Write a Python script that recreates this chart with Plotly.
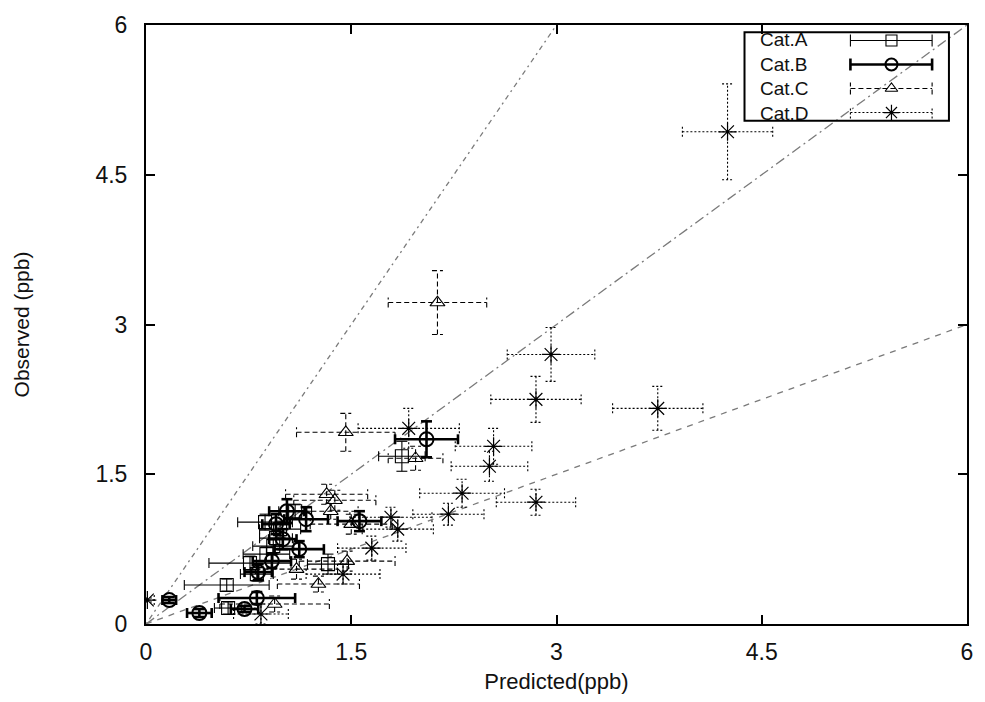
import plotly.graph_objects as go

# Predicted vs observed concentrations (ppb) with symmetric uncertainties
cat_a_pred = [1.87, 1.33, 0.87, 0.98, 1.09, 0.95, 0.76, 0.81, 0.59, 0.60, 0.93, 0.88]
cat_a_obs = [1.68, 0.60, 1.02, 0.95, 1.13, 0.86, 0.61, 0.50, 0.39, 0.16, 0.78, 0.70]
cat_a_perr = [0.17, 0.15, 0.20, 0.15, 0.12, 0.12, 0.30, 0.12, 0.31, 0.10, 0.15, 0.17]
cat_a_oerr = [0.15, 0.10, 0.08, 0.08, 0.07, 0.08, 0.07, 0.07, 0.06, 0.06, 0.08, 0.07]

cat_b_pred = [2.05, 1.56, 1.17, 1.03, 1.12, 0.92, 0.82, 0.81, 0.39, 0.17, 0.72, 1.00, 0.95]
cat_b_obs = [1.85, 1.03, 1.05, 1.13, 0.75, 0.63, 0.52, 0.26, 0.11, 0.24, 0.15, 0.85, 1.00]
cat_b_perr = [0.23, 0.16, 0.16, 0.13, 0.18, 0.14, 0.10, 0.28, 0.09, 0.05, 0.10, 0.10, 0.10]
cat_b_oerr = [0.18, 0.10, 0.12, 0.12, 0.08, 0.07, 0.08, 0.06, 0.04, 0.03, 0.03, 0.10, 0.10]

cat_c_pred = [2.13, 1.46, 1.32, 1.38, 1.35, 1.97, 1.26, 1.47, 0.94, 1.10, 1.50]
cat_c_obs = [3.22, 1.92, 1.30, 1.24, 1.13, 1.66, 0.40, 0.63, 0.20, 0.55, 1.00]
cat_c_perr = [0.36, 0.36, 0.30, 0.30, 0.20, 0.20, 0.30, 0.35, 0.40, 0.30, 0.30]
cat_c_oerr = [0.32, 0.19, 0.10, 0.10, 0.08, 0.12, 0.08, 0.10, 0.08, 0.10, 0.10]

cat_d_pred = [4.25, 2.96, 2.85, 3.74, 1.92, 2.54, 2.51, 2.31, 2.85, 2.21, 1.79, 1.84, 1.65, 1.44, 0.01, 0.84]
cat_d_obs = [4.93, 2.70, 2.25, 2.16, 1.96, 1.78, 1.58, 1.31, 1.22, 1.10, 1.07, 0.95, 0.76, 0.50, 0.24, 0.10]
cat_d_perr = [0.33, 0.32, 0.33, 0.33, 0.37, 0.28, 0.28, 0.31, 0.29, 0.26, 0.30, 0.26, 0.25, 0.27, 0.05, 0.20]
cat_d_oerr = [0.48, 0.27, 0.23, 0.22, 0.20, 0.18, 0.15, 0.14, 0.13, 0.11, 0.10, 0.12, 0.12, 0.10, 0.02, 0.10]

tick_vals = [0, 1.5, 3, 4.5, 6]
tick_text = ["0", "1.5", "3", "4.5", "6"]

# reference lines: observed = k * predicted
ref_slopes = [2.0, 1.0, 0.5]
ref_dash = ["2px,4px,5px,4px", "10px,4px,2px,4px", "6px,6px"]

AX_MAX = 6.0
# cap half-lengths in data units (about 5 px on this canvas)
CAP_X = 0.04
CAP_Y = 0.05

FONT = "Liberation Sans, Arial, sans-serif"

series = [
    dict(name="Cat.A", x=cat_a_pred, y=cat_a_obs, ex=cat_a_perr, ey=cat_a_oerr,
         symbol="square-open", size=13, lw=1.1, dash="solid", mlw=1.1),
    dict(name="Cat.B", x=cat_b_pred, y=cat_b_obs, ex=cat_b_perr, ey=cat_b_oerr,
         symbol="circle-open", size=14, lw=2.6, dash="solid", mlw=2.0),
    dict(name="Cat.C", x=cat_c_pred, y=cat_c_obs, ex=cat_c_perr, ey=cat_c_oerr,
         symbol="triangle-up-open", size=13, lw=1.1, dash="5px,3px", mlw=1.1),
    dict(name="Cat.D", x=cat_d_pred, y=cat_d_obs, ex=cat_d_perr, ey=cat_d_oerr,
         symbol="asterisk-open", size=15, lw=1.1, dash="2px,2px", mlw=1.2),
]


def error_segments(xs, ys, exs, eys):
    """Build x/y segment lists (None separated) for crosshair error bars with caps."""
    sx, sy = [], []
    for x, y, ex, ey in zip(xs, ys, exs, eys):
        # horizontal bar
        sx += [x - ex, x + ex, None]
        sy += [y, y, None]
        # vertical bar
        sx += [x, x, None]
        sy += [y - ey, y + ey, None]
        # caps
        for cx in (x - ex, x + ex):
            sx += [cx, cx, None]
            sy += [y - CAP_Y, y + CAP_Y, None]
        for cy in (y - ey, y + ey):
            sx += [x - CAP_X, x + CAP_X, None]
            sy += [cy, cy, None]
    return sx, sy


fig = go.Figure()

for k, d in zip(ref_slopes, ref_dash):
    x_end = min(AX_MAX, AX_MAX / k)
    fig.add_trace(go.Scatter(
        x=[0, x_end], y=[0, k * x_end], mode="lines",
        line=dict(color="#7a7a7a", width=1.3, dash=d),
        showlegend=False, hoverinfo="skip"))

for s in series:
    sx, sy = error_segments(s["x"], s["y"], s["ex"], s["ey"])
    fig.add_trace(go.Scatter(
        x=sx, y=sy, mode="lines",
        line=dict(color="black", width=s["lw"], dash=s["dash"]),
        showlegend=False, hoverinfo="skip"))
    fig.add_trace(go.Scatter(
        x=s["x"], y=s["y"], mode="markers", name=s["name"],
        marker=dict(symbol=s["symbol"], size=s["size"], color="black",
                    line=dict(color="black", width=s["mlw"])),
        showlegend=False))

# key box drawn on an overlay axis spanning the plotting area (0..1 each way)
KEY_FONT_SIZE = 19
plot_h_px = 702 - 17 - 69
row_step = KEY_FONT_SIZE * 1.3 / plot_h_px   # matches the multi-line text spacing
key_top, key_bottom = 0.988, 0.840
key_mid = (key_top + key_bottom) / 2
key_rows = [key_mid + (1.5 - i) * row_step for i in range(len(series))]
key_x0, key_x1, key_xm = 0.858, 0.9575, 0.908
key_cap = 0.010
for s, ry in zip(series, key_rows):
    fig.add_trace(go.Scatter(
        x=[key_x0, key_x1, None, key_x0, key_x0, None, key_x1, key_x1],
        y=[ry, ry, None, ry - key_cap, ry + key_cap, None, ry - key_cap, ry + key_cap],
        mode="lines", xaxis="x2", yaxis="y2",
        line=dict(color="black", width=s["lw"], dash=s["dash"]),
        showlegend=False, hoverinfo="skip"))
    fig.add_trace(go.Scatter(
        x=[key_xm], y=[ry], mode="markers", xaxis="x2", yaxis="y2",
        marker=dict(symbol=s["symbol"], size=s["size"] - 2, color="black",
                    line=dict(color="black", width=s["mlw"])),
        showlegend=False, hoverinfo="skip"))

fig.add_annotation(
    x=0.745, y=key_mid, xref="x2", yref="y2",
    text="<br>".join(s["name"] for s in series), showarrow=False,
    xanchor="left", yanchor="middle", align="left",
    font=dict(family=FONT, size=KEY_FONT_SIZE, color="#111"))

fig.add_shape(type="rect", xref="x2", yref="y2", x0=0.729, x1=0.978,
              y0=key_bottom, y1=key_top,
              line=dict(color="black", width=2), fillcolor="rgba(0,0,0,0)")

axis_common = dict(
    range=[0, AX_MAX], tickvals=tick_vals, ticktext=tick_text,
    ticks="inside", ticklen=9, tickwidth=1.5, tickcolor="black",
    showline=True, linewidth=2, linecolor="black", mirror="ticks",
    showgrid=False, zeroline=False,
    tickfont=dict(family=FONT, size=23, color="#111"),
)

fig.update_layout(
    width=985, height=702,
    margin=dict(l=146, r=15, t=17, b=69),
    paper_bgcolor="white", plot_bgcolor="white",
    showlegend=False,
    xaxis=dict(**axis_common, ticklabelstandoff=6,
               title=dict(text="Predicted(ppb)", standoff=10,
                          font=dict(family=FONT, size=22, color="#111"))),
    yaxis=dict(**axis_common, ticklabelstandoff=12,
               title=dict(text="Observed (ppb)", standoff=60,
                          font=dict(family=FONT, size=21, color="#111"))),
    xaxis2=dict(overlaying="x", range=[0, 1], visible=False, fixedrange=True),
    yaxis2=dict(overlaying="y", range=[0, 1], visible=False, fixedrange=True),
)

fig.write_html("out.html")
